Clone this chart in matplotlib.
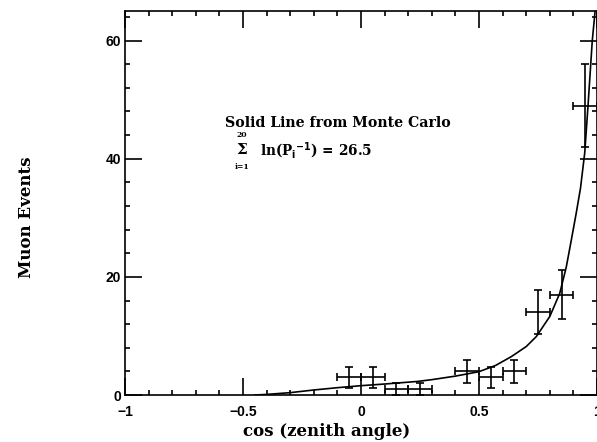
import matplotlib
matplotlib.use("Agg")
import matplotlib.pyplot as plt
from matplotlib.ticker import MultipleLocator

# measured muon events per cos(zenith) bin
cos_z = [-0.05, 0.05, 0.15, 0.25, 0.45, 0.55, 0.65, 0.75, 0.85, 0.95]
events = [3, 3, 1, 1, 4, 3, 4, 14, 17, 49]
ev_err = [1.73, 1.73, 1.0, 1.0, 2.0, 1.73, 2.0, 3.74, 4.12, 7.0]
bin_half = [0.05] * len(cos_z)

# Monte Carlo prediction (solid line)
mc_x = [-0.45, -0.4, -0.3, -0.2, -0.1, 0.0, 0.1, 0.24, 0.3, 0.4, 0.5, 0.57,
        0.637, 0.7, 0.743, 0.8, 0.842, 0.87, 0.891, 0.912, 0.93, 0.948,
        0.962, 0.98, 0.992]
mc_y = [0.0, 0.1, 0.4, 0.85, 1.24, 1.58, 1.86, 2.3, 2.6, 3.2, 3.95, 5.0,
        6.5, 8.2, 9.9, 13.3, 17.2, 21.7, 26.2, 30.8, 35.0, 41.0,
        49.0, 60.0, 65.0]

x_ticks = [-1, -0.5, 0, 0.5, 1]
x_labels = ["\u22121", "\u22120.5", "0", "0.5", "1"]
y_ticks = [0, 20, 40, 60]

fig = plt.figure(figsize=(5.97, 4.42), dpi=100)
ax = fig.add_axes([0.2094, 0.1063, 0.7906, 0.8687])

ax.plot(mc_x, mc_y, color="black", lw=1.2)
ax.errorbar(cos_z, events, xerr=bin_half, yerr=ev_err, fmt="none",
            ecolor="black", elinewidth=1.2, capsize=3, capthick=1.2)

ax.set_xlim(-1, 1)
ax.set_ylim(0, 65)
ax.set_xticks(x_ticks)
ax.set_xticklabels(x_labels)
ax.set_yticks(y_ticks)
ax.xaxis.set_minor_locator(MultipleLocator(0.1))
ax.yaxis.set_minor_locator(MultipleLocator(4))
ax.tick_params(which="both", direction="in", top=True, right=True, width=1.2)
ax.tick_params(which="major", length=12)
ax.tick_params(which="minor", length=3.5)
ax.tick_params(axis="x", pad=7)
ax.tick_params(axis="y", pad=3)
for lab in ax.get_xticklabels() + ax.get_yticklabels():
    lab.set_fontfamily("Liberation Sans")
    lab.set_fontweight("bold")
    lab.set_fontsize(10)
for s in ax.spines.values():
    s.set_linewidth(1.2)

serif = dict(family="DejaVu Serif", weight="bold", color="black")
ax.set_xlabel("cos (zenith angle)", fontsize=12, **serif)
ax.set_ylabel("Muon Events", fontsize=12, **serif)
ax.xaxis.set_label_coords(0.428, -0.072)
ax.yaxis.set_label_coords(-0.19, 0.463)

ax.text(-0.575, 45.4, "Solid Line from Monte Carlo", fontsize=10.2, **serif)
ax.text(-0.505, 41.4, "\u03a3", fontsize=11, ha="center", va="center", **serif)
ax.text(-0.505, 44.0, "20", fontsize=5.5, ha="center", va="center", **serif)
ax.text(-0.505, 38.6, "i=1", fontsize=5.5, ha="center", va="center", **serif)
ax.text(-0.43, 41.4, r"ln(P$_\mathbf{i}$$^{\mathbf{-1}}$) = 26.5", fontsize=9.8,
        va="center", **serif)

fig.savefig("out.png", dpi=100)
